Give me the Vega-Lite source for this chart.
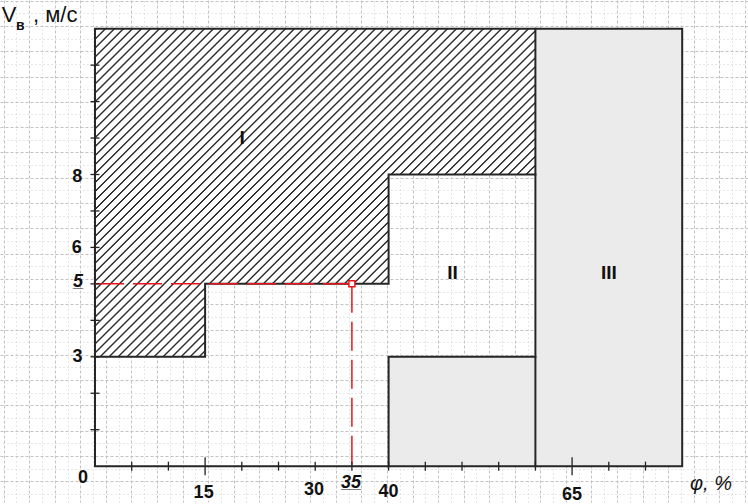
{
"$schema": "https://vega.github.io/schema/vega-lite/v6.json",
"width": 748, "height": 504,
"autosize": {"type": "fit", "contains": "padding"},
"padding": 0,
"background": "#ffffff",
"view": {"stroke": null},
"config": {"font": "Liberation Sans"},
"datasets": {
"dotted": [{"x": 40, "x2": 60, "y": 0, "y2": 3}, {"x": 60, "x2": 80, "y": 0, "y2": 12}],
"zoneI": [{"phi": 0, "lo": 3, "hi": 12}, {"phi": 15, "lo": 5, "hi": 12}, {"phi": 40, "lo": 8, "hi": 12}, {"phi": 60, "lo": 8, "hi": 12}],
"edges": [
{"s": "box", "o": 0, "phi": 0, "v": 0}, {"s": "box", "o": 1, "phi": 0, "v": 12}, {"s": "box", "o": 2, "phi": 80, "v": 12}, {"s": "box", "o": 3, "phi": 80, "v": 0}, {"s": "box", "o": 4, "phi": 0, "v": 0},
{"s": "I", "o": 0, "phi": 0, "v": 3}, {"s": "I", "o": 1, "phi": 15, "v": 3}, {"s": "I", "o": 2, "phi": 15, "v": 5}, {"s": "I", "o": 3, "phi": 40, "v": 5}, {"s": "I", "o": 4, "phi": 40, "v": 8}, {"s": "I", "o": 5, "phi": 60, "v": 8},
{"s": "III", "o": 0, "phi": 60, "v": 0}, {"s": "III", "o": 1, "phi": 60, "v": 12},
{"s": "IIb", "o": 0, "phi": 40, "v": 0}, {"s": "IIb", "o": 1, "phi": 40, "v": 3}, {"s": "IIb", "o": 2, "phi": 60, "v": 3}
],
"redline": [{"s": "h", "o": 0, "phi": 0, "v": 5}, {"s": "h", "o": 1, "phi": 35, "v": 5}, {"s": "v", "o": 0, "phi": 35, "v": 5}, {"s": "v", "o": 1, "phi": 35, "v": 0}],
"point": [{"phi": 35, "v": 5}],
"xticks": [{"v": 5}, {"v": 10}, {"v": 20}, {"v": 25}, {"v": 30}, {"v": 35}, {"v": 40}, {"v": 45}, {"v": 50}, {"v": 55}, {"v": 60}, {"v": 70}, {"v": 75}],
"xticksLong": [{"v": 15}, {"v": 65}],
"yticks": [{"v": 1}, {"v": 2}, {"v": 3}, {"v": 4}, {"v": 5}, {"v": 6}, {"v": 7}, {"v": 8}, {"v": 9}, {"v": 10}, {"v": 11}],
"tickLabels": [{"t": "8", "x": -2.43, "y": 7.806}, {"t": "6", "x": -2.5, "y": 5.841}, {"t": "3", "x": -2.4, "y": 2.85}, {"t": "0", "x": -1.63, "y": -0.465}, {"t": "15", "x": 14.8, "y": -0.874}, {"t": "30", "x": 29.84, "y": -0.792}, {"t": "40", "x": 40, "y": -0.847}, {"t": "65", "x": 65, "y": -0.921}],
"keyLabels": [{"t": "5", "u": "_", "x": -2.32, "y": 4.918}, {"t": "35", "u": "__", "x": 34.88, "y": -0.601}],
"zoneLabels": [{"t": "I", "x": 20.03, "y": 9.0}, {"t": "II", "x": 48.7, "y": 5.3}, {"t": "III", "x": 70, "y": 5.29}],
"yTitle": [{"t": "V", "x": -12.71, "y": 12.194}, {"t": ", м/с", "x": -8.45, "y": 12.194}],
"ySub": [{"t": "в", "x": -10.76, "y": 11.967}],
"xTitle": [{"t": "φ, %", "x": 81.06, "y": -0.656}]
},
"resolve": {"axis": {"x": "independent", "y": "independent"}},
"layer": [
{
"data": {"name": "dotted"},
"mark": {"type": "rect", "fill": "#ebebeb", "stroke": null, "opacity": 1},
"encoding": {
"x": {"field": "x", "type": "quantitative", "scale": {"domain": [-12.943, 88.965], "nice": false, "zero": false},
"axis": {"grid": true, "values": [-12.452, -8.970, -5.487, -2.005, 1.477, 4.960, 8.442, 11.924, 15.406, 18.889, 22.371, 25.853, 29.336, 32.818, 36.300, 39.783, 43.265, 46.747, 50.229, 53.712, 57.194, 60.676, 64.159, 67.641, 71.123, 74.606, 78.088, 81.570, 85.052, 88.535], "gridColor": "#c2c2c2", "gridDash": [3, 2], "gridWidth": 1, "domain": false, "ticks": false, "labels": false, "title": null}},
"x2": {"field": "x2"},
"y": {"field": "y", "type": "quantitative", "scale": {"domain": [-0.9836, 12.787], "nice": false, "zero": false},
"axis": {"grid": true, "values": [12.770, 12.076, 11.382, 10.688, 9.994, 9.300, 8.606, 7.912, 7.218, 6.524, 5.830, 5.136, 4.442, 3.748, 3.054, 2.360, 1.666, 0.972, 0.278, -0.416], "gridColor": "#c2c2c2", "gridDash": [3, 2], "gridWidth": 1, "domain": false, "ticks": false, "labels": false, "title": null}},
"y2": {"field": "y2"}
}
},
{
"data": {"name": "zoneI"},
"mark": {"type": "area", "interpolate": "step-after", "opacity": 1, "stroke": null,
"fill": {"gradient": "linear", "x1": 0, "y1": 0, "x2": 0.86491, "y2": 0.64692, "stops": [
{"offset":0,"color":"#fff"},{"offset":0.001684,"color":"#2e2e2e"},{"offset":0.003367,"color":"#2e2e2e"},{"offset":0.005051,"color":"#fff"},
{"offset":0.015152,"color":"#fff"},{"offset":0.016836,"color":"#2e2e2e"},{"offset":0.018519,"color":"#2e2e2e"},{"offset":0.020203,"color":"#fff"},
{"offset":0.030303,"color":"#fff"},{"offset":0.031987,"color":"#2e2e2e"},{"offset":0.033670,"color":"#2e2e2e"},{"offset":0.035354,"color":"#fff"},
{"offset":0.045455,"color":"#fff"},{"offset":0.047139,"color":"#2e2e2e"},{"offset":0.048822,"color":"#2e2e2e"},{"offset":0.050506,"color":"#fff"},
{"offset":0.060606,"color":"#fff"},{"offset":0.062290,"color":"#2e2e2e"},{"offset":0.063973,"color":"#2e2e2e"},{"offset":0.065657,"color":"#fff"},
{"offset":0.075758,"color":"#fff"},{"offset":0.077442,"color":"#2e2e2e"},{"offset":0.079125,"color":"#2e2e2e"},{"offset":0.080809,"color":"#fff"},
{"offset":0.090909,"color":"#fff"},{"offset":0.092593,"color":"#2e2e2e"},{"offset":0.094276,"color":"#2e2e2e"},{"offset":0.095960,"color":"#fff"},
{"offset":0.106061,"color":"#fff"},{"offset":0.107745,"color":"#2e2e2e"},{"offset":0.109428,"color":"#2e2e2e"},{"offset":0.111112,"color":"#fff"},
{"offset":0.121212,"color":"#fff"},{"offset":0.122896,"color":"#2e2e2e"},{"offset":0.124579,"color":"#2e2e2e"},{"offset":0.126263,"color":"#fff"},
{"offset":0.136364,"color":"#fff"},{"offset":0.138048,"color":"#2e2e2e"},{"offset":0.139731,"color":"#2e2e2e"},{"offset":0.141415,"color":"#fff"},
{"offset":0.151515,"color":"#fff"},{"offset":0.153199,"color":"#2e2e2e"},{"offset":0.154882,"color":"#2e2e2e"},{"offset":0.156566,"color":"#fff"},
{"offset":0.166667,"color":"#fff"},{"offset":0.168351,"color":"#2e2e2e"},{"offset":0.170034,"color":"#2e2e2e"},{"offset":0.171718,"color":"#fff"},
{"offset":0.181818,"color":"#fff"},{"offset":0.183502,"color":"#2e2e2e"},{"offset":0.185185,"color":"#2e2e2e"},{"offset":0.186869,"color":"#fff"},
{"offset":0.196970,"color":"#fff"},{"offset":0.198654,"color":"#2e2e2e"},{"offset":0.200337,"color":"#2e2e2e"},{"offset":0.202021,"color":"#fff"},
{"offset":0.212121,"color":"#fff"},{"offset":0.213805,"color":"#2e2e2e"},{"offset":0.215488,"color":"#2e2e2e"},{"offset":0.217172,"color":"#fff"},
{"offset":0.227273,"color":"#fff"},{"offset":0.228957,"color":"#2e2e2e"},{"offset":0.230640,"color":"#2e2e2e"},{"offset":0.232324,"color":"#fff"},
{"offset":0.242424,"color":"#fff"},{"offset":0.244108,"color":"#2e2e2e"},{"offset":0.245791,"color":"#2e2e2e"},{"offset":0.247475,"color":"#fff"},
{"offset":0.257576,"color":"#fff"},{"offset":0.259260,"color":"#2e2e2e"},{"offset":0.260943,"color":"#2e2e2e"},{"offset":0.262627,"color":"#fff"},
{"offset":0.272727,"color":"#fff"},{"offset":0.274411,"color":"#2e2e2e"},{"offset":0.276094,"color":"#2e2e2e"},{"offset":0.277778,"color":"#fff"},
{"offset":0.287879,"color":"#fff"},{"offset":0.289563,"color":"#2e2e2e"},{"offset":0.291246,"color":"#2e2e2e"},{"offset":0.292930,"color":"#fff"},
{"offset":0.303030,"color":"#fff"},{"offset":0.304714,"color":"#2e2e2e"},{"offset":0.306397,"color":"#2e2e2e"},{"offset":0.308081,"color":"#fff"},
{"offset":0.318182,"color":"#fff"},{"offset":0.319866,"color":"#2e2e2e"},{"offset":0.321549,"color":"#2e2e2e"},{"offset":0.323233,"color":"#fff"},
{"offset":0.333333,"color":"#fff"},{"offset":0.335017,"color":"#2e2e2e"},{"offset":0.336700,"color":"#2e2e2e"},{"offset":0.338384,"color":"#fff"},
{"offset":0.348485,"color":"#fff"},{"offset":0.350169,"color":"#2e2e2e"},{"offset":0.351852,"color":"#2e2e2e"},{"offset":0.353536,"color":"#fff"},
{"offset":0.363636,"color":"#fff"},{"offset":0.365320,"color":"#2e2e2e"},{"offset":0.367003,"color":"#2e2e2e"},{"offset":0.368687,"color":"#fff"},
{"offset":0.378788,"color":"#fff"},{"offset":0.380472,"color":"#2e2e2e"},{"offset":0.382155,"color":"#2e2e2e"},{"offset":0.383839,"color":"#fff"},
{"offset":0.393939,"color":"#fff"},{"offset":0.395623,"color":"#2e2e2e"},{"offset":0.397306,"color":"#2e2e2e"},{"offset":0.398990,"color":"#fff"},
{"offset":0.409091,"color":"#fff"},{"offset":0.410775,"color":"#2e2e2e"},{"offset":0.412458,"color":"#2e2e2e"},{"offset":0.414142,"color":"#fff"},
{"offset":0.424242,"color":"#fff"},{"offset":0.425926,"color":"#2e2e2e"},{"offset":0.427609,"color":"#2e2e2e"},{"offset":0.429293,"color":"#fff"},
{"offset":0.439394,"color":"#fff"},{"offset":0.441078,"color":"#2e2e2e"},{"offset":0.442761,"color":"#2e2e2e"},{"offset":0.444445,"color":"#fff"},
{"offset":0.454545,"color":"#fff"},{"offset":0.456229,"color":"#2e2e2e"},{"offset":0.457912,"color":"#2e2e2e"},{"offset":0.459596,"color":"#fff"},
{"offset":0.469697,"color":"#fff"},{"offset":0.471381,"color":"#2e2e2e"},{"offset":0.473064,"color":"#2e2e2e"},{"offset":0.474748,"color":"#fff"},
{"offset":0.484848,"color":"#fff"},{"offset":0.486532,"color":"#2e2e2e"},{"offset":0.488215,"color":"#2e2e2e"},{"offset":0.489899,"color":"#fff"},
{"offset":0.500000,"color":"#fff"},{"offset":0.501684,"color":"#2e2e2e"},{"offset":0.503367,"color":"#2e2e2e"},{"offset":0.505051,"color":"#fff"},
{"offset":0.515152,"color":"#fff"},{"offset":0.516836,"color":"#2e2e2e"},{"offset":0.518519,"color":"#2e2e2e"},{"offset":0.520203,"color":"#fff"},
{"offset":0.530303,"color":"#fff"},{"offset":0.531987,"color":"#2e2e2e"},{"offset":0.533670,"color":"#2e2e2e"},{"offset":0.535354,"color":"#fff"},
{"offset":0.545455,"color":"#fff"},{"offset":0.547139,"color":"#2e2e2e"},{"offset":0.548822,"color":"#2e2e2e"},{"offset":0.550506,"color":"#fff"},
{"offset":0.560606,"color":"#fff"},{"offset":0.562290,"color":"#2e2e2e"},{"offset":0.563973,"color":"#2e2e2e"},{"offset":0.565657,"color":"#fff"},
{"offset":0.575758,"color":"#fff"},{"offset":0.577442,"color":"#2e2e2e"},{"offset":0.579125,"color":"#2e2e2e"},{"offset":0.580809,"color":"#fff"},
{"offset":0.590909,"color":"#fff"},{"offset":0.592593,"color":"#2e2e2e"},{"offset":0.594276,"color":"#2e2e2e"},{"offset":0.595960,"color":"#fff"},
{"offset":0.606061,"color":"#fff"},{"offset":0.607745,"color":"#2e2e2e"},{"offset":0.609428,"color":"#2e2e2e"},{"offset":0.611112,"color":"#fff"},
{"offset":0.621212,"color":"#fff"},{"offset":0.622896,"color":"#2e2e2e"},{"offset":0.624579,"color":"#2e2e2e"},{"offset":0.626263,"color":"#fff"},
{"offset":0.636364,"color":"#fff"},{"offset":0.638048,"color":"#2e2e2e"},{"offset":0.639731,"color":"#2e2e2e"},{"offset":0.641415,"color":"#fff"},
{"offset":0.651515,"color":"#fff"},{"offset":0.653199,"color":"#2e2e2e"},{"offset":0.654882,"color":"#2e2e2e"},{"offset":0.656566,"color":"#fff"},
{"offset":0.666667,"color":"#fff"},{"offset":0.668351,"color":"#2e2e2e"},{"offset":0.670034,"color":"#2e2e2e"},{"offset":0.671718,"color":"#fff"},
{"offset":0.681818,"color":"#fff"},{"offset":0.683502,"color":"#2e2e2e"},{"offset":0.685185,"color":"#2e2e2e"},{"offset":0.686869,"color":"#fff"},
{"offset":0.696970,"color":"#fff"},{"offset":0.698654,"color":"#2e2e2e"},{"offset":0.700337,"color":"#2e2e2e"},{"offset":0.702021,"color":"#fff"},
{"offset":0.712121,"color":"#fff"},{"offset":0.713805,"color":"#2e2e2e"},{"offset":0.715488,"color":"#2e2e2e"},{"offset":0.717172,"color":"#fff"},
{"offset":0.727273,"color":"#fff"},{"offset":0.728957,"color":"#2e2e2e"},{"offset":0.730640,"color":"#2e2e2e"},{"offset":0.732324,"color":"#fff"},
{"offset":0.742424,"color":"#fff"},{"offset":0.744108,"color":"#2e2e2e"},{"offset":0.745791,"color":"#2e2e2e"},{"offset":0.747475,"color":"#fff"},
{"offset":0.757576,"color":"#fff"},{"offset":0.759260,"color":"#2e2e2e"},{"offset":0.760943,"color":"#2e2e2e"},{"offset":0.762627,"color":"#fff"},
{"offset":0.772727,"color":"#fff"},{"offset":0.774411,"color":"#2e2e2e"},{"offset":0.776094,"color":"#2e2e2e"},{"offset":0.777778,"color":"#fff"},
{"offset":0.787879,"color":"#fff"},{"offset":0.789563,"color":"#2e2e2e"},{"offset":0.791246,"color":"#2e2e2e"},{"offset":0.792930,"color":"#fff"},
{"offset":0.803030,"color":"#fff"},{"offset":0.804714,"color":"#2e2e2e"},{"offset":0.806397,"color":"#2e2e2e"},{"offset":0.808081,"color":"#fff"},
{"offset":0.818182,"color":"#fff"},{"offset":0.819866,"color":"#2e2e2e"},{"offset":0.821549,"color":"#2e2e2e"},{"offset":0.823233,"color":"#fff"},
{"offset":0.833333,"color":"#fff"},{"offset":0.835017,"color":"#2e2e2e"},{"offset":0.836700,"color":"#2e2e2e"},{"offset":0.838384,"color":"#fff"},
{"offset":0.848485,"color":"#fff"},{"offset":0.850169,"color":"#2e2e2e"},{"offset":0.851852,"color":"#2e2e2e"},{"offset":0.853536,"color":"#fff"},
{"offset":0.863636,"color":"#fff"},{"offset":0.865320,"color":"#2e2e2e"},{"offset":0.867003,"color":"#2e2e2e"},{"offset":0.868687,"color":"#fff"},
{"offset":0.878788,"color":"#fff"},{"offset":0.880472,"color":"#2e2e2e"},{"offset":0.882155,"color":"#2e2e2e"},{"offset":0.883839,"color":"#fff"},
{"offset":0.893939,"color":"#fff"},{"offset":0.895623,"color":"#2e2e2e"},{"offset":0.897306,"color":"#2e2e2e"},{"offset":0.898990,"color":"#fff"},
{"offset":0.909091,"color":"#fff"},{"offset":0.910775,"color":"#2e2e2e"},{"offset":0.912458,"color":"#2e2e2e"},{"offset":0.914142,"color":"#fff"},
{"offset":0.924242,"color":"#fff"},{"offset":0.925926,"color":"#2e2e2e"},{"offset":0.927609,"color":"#2e2e2e"},{"offset":0.929293,"color":"#fff"},
{"offset":0.939394,"color":"#fff"},{"offset":0.941078,"color":"#2e2e2e"},{"offset":0.942761,"color":"#2e2e2e"},{"offset":0.944445,"color":"#fff"},
{"offset":0.954545,"color":"#fff"},{"offset":0.956229,"color":"#2e2e2e"},{"offset":0.957912,"color":"#2e2e2e"},{"offset":0.959596,"color":"#fff"},
{"offset":0.969697,"color":"#fff"},{"offset":0.971381,"color":"#2e2e2e"},{"offset":0.973064,"color":"#2e2e2e"},{"offset":0.974748,"color":"#fff"},
{"offset":0.984848,"color":"#fff"},{"offset":0.986532,"color":"#2e2e2e"},{"offset":0.988215,"color":"#2e2e2e"},{"offset":0.989899,"color":"#fff"},
{"offset":1,"color":"#fff"}
]}},
"encoding": {
"x": {"field": "phi", "type": "quantitative",
"axis": {"grid": true, "values": [-10.711, -7.229, -3.746, -0.264, 3.218, 6.701, 10.183, 13.665, 17.147, 20.630, 24.112, 27.594, 31.077, 34.559, 38.041, 41.524, 45.006, 48.488, 51.970, 55.453, 58.935, 62.417, 65.900, 69.382, 72.864, 76.347, 79.829, 83.311, 86.793], "gridColor": "#cfcfcf", "gridDash": [1, 3], "gridWidth": 1, "domain": false, "ticks": false, "labels": false, "title": null}},
"y": {"field": "lo", "type": "quantitative",
"axis": {"grid": true, "values": [12.423, 11.729, 11.035, 10.341, 9.647, 8.953, 8.259, 7.565, 6.871, 6.177, 5.483, 4.789, 4.095, 3.401, 2.707, 2.013, 1.319, 0.625, -0.069, -0.763], "gridColor": "#cfcfcf", "gridDash": [1, 3], "gridWidth": 1, "domain": false, "ticks": false, "labels": false, "title": null}},
"y2": {"field": "hi"}
}
},
{
"data": {"name": "edges"},
"mark": {"type": "line", "color": "#262626", "strokeWidth": 2, "strokeCap": "square"},
"encoding": {
"x": {"field": "phi", "type": "quantitative", "axis": null},
"y": {"field": "v", "type": "quantitative", "axis": null},
"detail": {"field": "s"},
"order": {"field": "o"}
}
},
{
"data": {"name": "redline"},
"mark": {"type": "line", "color": "#e8141b", "strokeWidth": 1.5, "strokeDash": [29, 9]},
"encoding": {
"x": {"field": "phi", "type": "quantitative", "axis": null},
"y": {"field": "v", "type": "quantitative", "axis": null},
"detail": {"field": "s"},
"order": {"field": "o"}
}
},
{
"data": {"name": "xticks"},
"mark": {"type": "tick", "orient": "vertical", "size": 9, "thickness": 1.3, "color": "#222", "opacity": 1},
"encoding": {
"x": {"field": "v", "type": "quantitative", "axis": null},
"y": {"datum": 0, "type": "quantitative", "axis": null}
}
},
{
"data": {"name": "xticksLong"},
"mark": {"type": "tick", "orient": "vertical", "size": 18, "thickness": 1.3, "color": "#222", "opacity": 1},
"encoding": {
"x": {"field": "v", "type": "quantitative", "axis": null},
"y": {"datum": 0, "type": "quantitative", "axis": null}
}
},
{
"data": {"name": "yticks"},
"mark": {"type": "tick", "orient": "horizontal", "size": 9, "thickness": 1.3, "color": "#222", "opacity": 1},
"encoding": {
"x": {"datum": 0, "type": "quantitative", "axis": null},
"y": {"field": "v", "type": "quantitative", "axis": null}
}
},
{
"data": {"name": "point"},
"mark": {"type": "point", "shape": "square", "size": 36, "filled": true, "fill": "#ffffff", "stroke": "#e8141b", "strokeWidth": 1.5, "opacity": 1},
"encoding": {
"x": {"field": "phi", "type": "quantitative", "axis": null},
"y": {"field": "v", "type": "quantitative", "axis": null}
}
},
{
"data": {"name": "tickLabels"},
"mark": {"type": "text", "font": "Liberation Sans", "fontWeight": "bold", "fontSize": 18, "align": "center", "baseline": "alphabetic", "color": "#111"},
"encoding": {
"x": {"field": "x", "type": "quantitative", "axis": null},
"y": {"field": "y", "type": "quantitative", "axis": null},
"text": {"field": "t"}
}
},
{
"data": {"name": "keyLabels"},
"mark": {"type": "text", "font": "Liberation Sans", "fontWeight": "bold", "fontStyle": "italic", "fontSize": 18, "align": "center", "baseline": "alphabetic", "color": "#111"},
"encoding": {
"x": {"field": "x", "type": "quantitative", "axis": null},
"y": {"field": "y", "type": "quantitative", "axis": null},
"text": {"field": "t"}
}
},
{
"data": {"name": "keyLabels"},
"mark": {"type": "text", "font": "Liberation Sans", "fontWeight": "bold", "fontSize": 18, "align": "center", "baseline": "alphabetic", "color": "#111"},
"encoding": {
"x": {"field": "x", "type": "quantitative", "axis": null},
"y": {"field": "y", "type": "quantitative", "axis": null},
"text": {"field": "u"}
}
},
{
"data": {"name": "zoneLabels"},
"mark": {"type": "text", "font": "Liberation Sans", "fontWeight": "bold", "fontSize": 19, "align": "center", "baseline": "middle", "color": "#111"},
"encoding": {
"x": {"field": "x", "type": "quantitative", "axis": null},
"y": {"field": "y", "type": "quantitative", "axis": null},
"text": {"field": "t"}
}
},
{
"data": {"name": "yTitle"},
"mark": {"type": "text", "font": "Liberation Sans", "fontSize": 22, "align": "left", "baseline": "alphabetic", "color": "#111"},
"encoding": {
"x": {"field": "x", "type": "quantitative", "axis": null},
"y": {"field": "y", "type": "quantitative", "axis": null},
"text": {"field": "t"}
}
},
{
"data": {"name": "ySub"},
"mark": {"type": "text", "font": "Liberation Sans", "fontWeight": "bold", "fontSize": 14, "align": "left", "baseline": "alphabetic", "color": "#111"},
"encoding": {
"x": {"field": "x", "type": "quantitative", "axis": null},
"y": {"field": "y", "type": "quantitative", "axis": null},
"text": {"field": "t"}
}
},
{
"data": {"name": "xTitle"},
"mark": {"type": "text", "font": "Liberation Sans", "fontStyle": "italic", "fontSize": 20, "align": "left", "baseline": "alphabetic", "color": "#111"},
"encoding": {
"x": {"field": "x", "type": "quantitative", "axis": null},
"y": {"field": "y", "type": "quantitative", "axis": null},
"text": {"field": "t"}
}
}
]
}
